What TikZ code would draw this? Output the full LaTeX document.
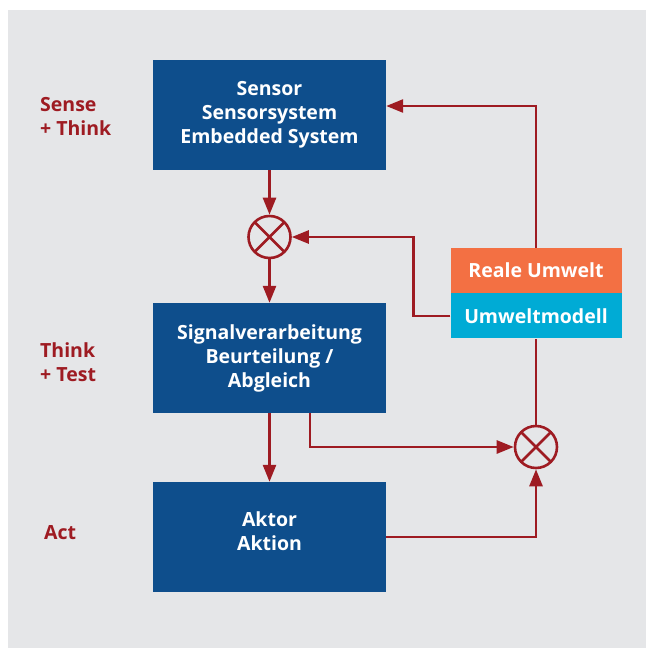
\documentclass[tikz,border=0pt]{standalone}
\usepackage{fontspec}
\setmainfont{Open Sans}
\usetikzlibrary{arrows.meta,positioning}

\definecolor{bgray}{HTML}{E5E6E8}
\definecolor{fblue}{HTML}{0E4E8C}
\definecolor{fred}{HTML}{9E1B22}
\definecolor{forange}{HTML}{F37043}
\definecolor{fcyan}{HTML}{00ABD5}

\tikzset{
	box/.style={fill=fblue, text=white, font=\bfseries\fontsize{19.5}{24}\selectfont, align=center, minimum width=233pt, minimum height=110pt, inner sep=0pt},
	envbox/.style={text=white, font=\bfseries\fontsize{19.5}{24}\selectfont, minimum width=171pt, minimum height=45pt, inner sep=0pt},
	lbl/.style={text=fred, font=\bfseries\fontsize{19.5}{24}\selectfont, align=left, anchor=west, inner sep=0pt},
	mult/.style={circle, draw=fred, line width=2.6pt, minimum size=42pt, inner sep=0pt,
		path picture={\draw[fred, line width=2.6pt] (path picture bounding box.north west) -- (path picture bounding box.south east) (path picture bounding box.north east) -- (path picture bounding box.south west);}},
	conn/.style={draw=fred, line width=2.6pt, -{Triangle[length=17pt,width=13pt]}},
	line/.style={draw=fred, line width=2.6pt}
}

\begin{document}
\begin{tikzpicture}[x=1pt, y=-1pt]
		\useasboundingbox (0,0) rectangle (646,648);
		\fill[bgray] (8,10) rectangle (646,648);

		\node[box] (sensor) at (269.5,115) {Sensor\\Sensorsystem\\Embedded System};
		\node[box] (signal) at (269.5,358) {Signalverarbeitung\\Beurteilung /\\Abgleich};
		\node[box] (aktor) at (269.5,537) {Aktor\\Aktion\\[-12pt]};

		\node[envbox, fill=forange] (real) at (536,270.5) {Reale Umwelt};
		\node[envbox, fill=fcyan, below=0pt of real] (modell) {Umweltmodell};

		\node[mult] (m1) at (269.5,237) {};
		\node[mult] (m2) at (536,447) {};

		\node[lbl] (lsense) at (40,116) {Sense\\+ Think};
		\node[lbl] (lthink) at (40,362) {Think\\+ Test};
		\node[lbl] (lact) at (44,533) {Act};

		\draw[conn] (sensor) -- (m1);
		\draw[conn] (m1) -- (signal);
		\draw[conn] (signal) -- (aktor);
		\draw[conn] (modell.west) -- ++(-37,0) |- (m1.east);
		\draw[conn] (real.north) |- ([yshift=9pt]sensor.east);
		\draw[conn] ([xshift=40.5pt]signal.south) |- (m2.west);
		\draw[conn] (aktor.east) -| (m2.south);
		\draw[line] (m2.north) -- (modell.south);
	\end{tikzpicture}
\end{document}
